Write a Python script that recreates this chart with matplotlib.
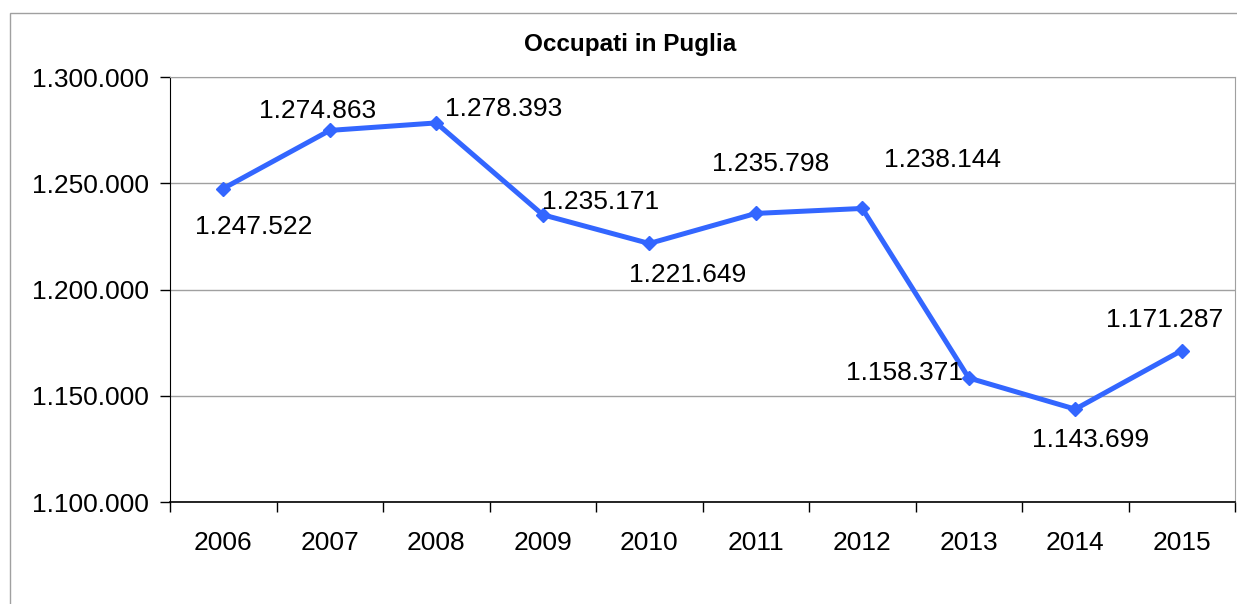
import matplotlib
matplotlib.use('Agg')
import matplotlib.pyplot as plt
from matplotlib.patches import Rectangle
from matplotlib.ticker import FuncFormatter, FixedLocator

# --- données ---
anni = ['2006', '2007', '2008', '2009', '2010', '2011', '2012', '2013', '2014', '2015']
occupati = [1247522, 1274863, 1278393, 1235171, 1221649, 1235798, 1238144, 1158371, 1143699, 1171287]
# décalage des étiquettes (pixels)
offset_etiquettes = [(30, -38), (-12, 19), (67, 14), (58, 13), (38, -32), (15, 49), (80, 48), (-64, 5), (15, -31), (-17, 31)]

def fmt_it(v):
    return f"{int(v):,}".replace(",", ".")

plt.rcParams['font.family'] = ['Liberation Sans', 'DejaVu Sans']

fig = plt.figure(figsize=(12.37, 6.04), dpi=100)
ax = fig.add_axes([170 / 1237, 1 - 502 / 604, (1235 - 170) / 1237, (502 - 77) / 604])

x = list(range(len(anni)))
ax.plot(x, occupati, color='#3366FF', lw=3.6, marker='D', markersize=7, zorder=3)

for xi, v, (dx, dy) in zip(x, occupati, offset_etiquettes):
    ax.annotate(fmt_it(v), (xi, v), xytext=(dx, dy), textcoords='offset pixels',
                ha='center', va='center', fontsize=19, color='black')

ax.set_xlim(-0.5, len(anni) - 0.5)
ax.set_ylim(1100000, 1300000)
ax.set_yticks([1100000, 1150000, 1200000, 1250000, 1300000])
ax.yaxis.set_major_formatter(FuncFormatter(lambda v, p: fmt_it(v)))
ax.set_xticks(x)
ax.set_xticklabels(anni)
ax.xaxis.set_minor_locator(FixedLocator([i + 0.5 for i in range(-1, len(anni))]))
ax.tick_params(axis='x', which='major', length=0, pad=21, labelsize=19)
ax.tick_params(axis='x', which='minor', length=7, width=1, color='black')
ax.tick_params(axis='y', length=7, width=1, labelsize=19, pad=8)

ax.grid(axis='y', color='#A0A0A0', lw=1)
ax.set_axisbelow(True)
ax.spines['left'].set_color('black')
ax.spines['bottom'].set_color('black')
ax.spines['bottom'].set_linewidth(1.2)
ax.spines['top'].set_color('#A0A0A0')
ax.spines['right'].set_color('#A0A0A0')

fig.text(630 / 1237, 1 - 45 / 604, 'Occupati in Puglia', ha='center', va='center',
         fontsize=17.5, fontweight='bold')

# cadre du graphique
fig.patches.append(Rectangle((10 / 1237, -0.1), 1.2, 1 - 13 / 604 + 0.1, transform=fig.transFigure,
                             fill=False, edgecolor='#A0A0A0', lw=1))

fig.savefig('out.png', dpi=100)
plt.close(fig)
